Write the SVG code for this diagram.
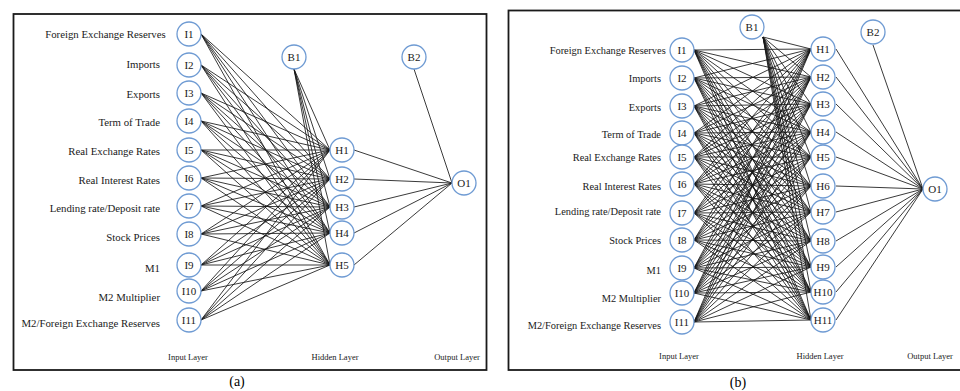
<svg xmlns="http://www.w3.org/2000/svg" width="960" height="391" viewBox="0 0 960 391">
<style>
.frame{fill:none;stroke:#1a1a1a;stroke-width:1.8}
.node circle{fill:#fff;stroke:#6f9bd3;stroke-width:1.3}
.node text{font-family:"Liberation Serif","Times New Roman",serif;font-size:11px;fill:#1a1a1a;text-anchor:middle}
.lbl{font-family:"Liberation Serif","Times New Roman",serif;font-size:10.8px;fill:#1a1a1a;text-anchor:end}
.lblb{font-family:"Liberation Serif","Times New Roman",serif;font-size:10.4px;fill:#1a1a1a;text-anchor:end}
.layer{font-family:"Liberation Serif","Times New Roman",serif;font-size:8.5px;fill:#1a1a1a;text-anchor:middle}
.cap{font-family:"Liberation Serif","Times New Roman",serif;font-size:14px;fill:#000;text-anchor:middle}
.edges path{fill:none;stroke:#161616;stroke-width:0.85}
</style>
<rect class="frame" x="13.5" y="14" width="473" height="356"/>
<rect class="frame" x="508.5" y="10.5" width="470" height="359.5"/>

<g id="connectors">
<g id="edges-a" class="edges">
<path d="M201 34L330 150M201 34L330 179M201 34L330 207M201 34L330 233M201 34L330 265"/>
<path d="M201 65L330 150M201 65L330 179M201 65L330 207M201 65L330 233M201 65L330 265"/>
<path d="M201 93L330 150M201 93L330 179M201 93L330 207M201 93L330 233M201 93L330 265"/>
<path d="M201 121L330 150M201 121L330 179M201 121L330 207M201 121L330 233M201 121L330 265"/>
<path d="M201 150L330 150M201 150L330 179M201 150L330 207M201 150L330 233M201 150L330 265"/>
<path d="M201 178L330 150M201 178L330 179M201 178L330 207M201 178L330 233M201 178L330 265"/>
<path d="M201 206L330 150M201 206L330 179M201 206L330 207M201 206L330 233M201 206L330 265"/>
<path d="M201 234L330 150M201 234L330 179M201 234L330 207M201 234L330 233M201 234L330 265"/>
<path d="M201 265L330 150M201 265L330 179M201 265L330 207M201 265L330 233M201 265L330 265"/>
<path d="M201 291L330 150M201 291L330 179M201 291L330 207M201 291L330 233M201 291L330 265"/>
<path d="M201 320L330 150M201 320L330 179M201 320L330 207M201 320L330 233M201 320L330 265"/>
<path d="M294 69L330 150M294 69L330 179M294 69L330 207M294 69L330 233M294 69L330 265"/>
<path d="M354 150L452 183M354 179L452 183M354 207L452 183M354 233L452 183M354 265L452 183"/>
<path d="M414 69L452 183"/>
</g>
<g id="edges-b" class="edges">
<path d="M694 50L811 49M694 50L811 77M694 50L811 104M694 50L811 132M694 50L811 157M694 50L811 186M694 50L811 212M694 50L811 241M694 50L811 267M694 50L811 292M694 50L811 320"/>
<path d="M694 78L811 49M694 78L811 77M694 78L811 104M694 78L811 132M694 78L811 157M694 78L811 186M694 78L811 212M694 78L811 241M694 78L811 267M694 78L811 292M694 78L811 320"/>
<path d="M694 106L811 49M694 106L811 77M694 106L811 104M694 106L811 132M694 106L811 157M694 106L811 186M694 106L811 212M694 106L811 241M694 106L811 267M694 106L811 292M694 106L811 320"/>
<path d="M694 133L811 49M694 133L811 77M694 133L811 104M694 133L811 132M694 133L811 157M694 133L811 186M694 133L811 212M694 133L811 241M694 133L811 267M694 133L811 292M694 133L811 320"/>
<path d="M694 157L811 49M694 157L811 77M694 157L811 104M694 157L811 132M694 157L811 157M694 157L811 186M694 157L811 212M694 157L811 241M694 157L811 267M694 157L811 292M694 157L811 320"/>
<path d="M694 184L811 49M694 184L811 77M694 184L811 104M694 184L811 132M694 184L811 157M694 184L811 186M694 184L811 212M694 184L811 241M694 184L811 267M694 184L811 292M694 184L811 320"/>
<path d="M694 213L811 49M694 213L811 77M694 213L811 104M694 213L811 132M694 213L811 157M694 213L811 186M694 213L811 212M694 213L811 241M694 213L811 267M694 213L811 292M694 213L811 320"/>
<path d="M694 240L811 49M694 240L811 77M694 240L811 104M694 240L811 132M694 240L811 157M694 240L811 186M694 240L811 212M694 240L811 241M694 240L811 267M694 240L811 292M694 240L811 320"/>
<path d="M694 268L811 49M694 268L811 77M694 268L811 104M694 268L811 132M694 268L811 157M694 268L811 186M694 268L811 212M694 268L811 241M694 268L811 267M694 268L811 292M694 268L811 320"/>
<path d="M694 293L811 49M694 293L811 77M694 293L811 104M694 293L811 132M694 293L811 157M694 293L811 186M694 293L811 212M694 293L811 241M694 293L811 267M694 293L811 292M694 293L811 320"/>
<path d="M694 322L811 49M694 322L811 77M694 322L811 104M694 322L811 132M694 322L811 157M694 322L811 186M694 322L811 212M694 322L811 241M694 322L811 267M694 322L811 292M694 322L811 320"/>
<path d="M763 37L811 49M763 37L811 77M763 37L811 104M763 37L811 132M763 37L811 157M763 37L811 186M763 37L811 212M763 37L811 241M763 37L811 267M763 37L811 292M763 37L811 320"/>
<path d="M836 49L923 189M836 77L923 189M836 104L923 189M836 132L923 189M836 157L923 189M836 186L923 189M836 212L923 189M836 241L923 189M836 267L923 189M836 292L923 189M836 320L923 189"/>
<path d="M873 45L923 189"/>
</g>
</g>

<!-- Panel (a) labels -->
<g id="labels-a" xml:space="preserve">
<text class="lbl" x="165.7" y="37.8">Foreign Exchange  Reserves</text>
<text class="lbl" x="160" y="67.8">Imports</text>
<text class="lbl" x="160" y="97.8">Exports</text>
<text class="lbl" x="160" y="125.8">Term of Trade</text>
<text class="lbl" x="160" y="154.8">Real Exchange  Rates</text>
<text class="lbl" x="160" y="183.8">Real Interest Rates</text>
<text class="lbl" x="160" y="211.8">Lending rate/Deposit rate</text>
<text class="lbl" x="160" y="240.8">Stock Prices</text>
<text class="lbl" x="160" y="271.8">M1</text>
<text class="lbl" x="160" y="300.8">M2 Multiplier</text>
<text class="lbl" x="160" y="326.8">M2/Foreign Exchange  Reserves</text>
<text class="layer" x="188" y="359.5">Input Layer</text>
<text class="layer" x="335" y="359.5">Hidden Layer</text>
<text class="layer" x="457" y="359.5">Output Layer</text>
<text class="cap" x="237" y="386">(a)</text>
</g>

<g id="a-I1" class="node"><circle cx="189" cy="34" r="12"/><text x="189" y="38">I1</text></g>
<g id="a-I2" class="node"><circle cx="189" cy="65" r="12"/><text x="189" y="69">I2</text></g>
<g id="a-I3" class="node"><circle cx="189" cy="93" r="12"/><text x="189" y="97">I3</text></g>
<g id="a-I4" class="node"><circle cx="189" cy="121" r="12"/><text x="189" y="125">I4</text></g>
<g id="a-I5" class="node"><circle cx="189" cy="150" r="12"/><text x="189" y="154">I5</text></g>
<g id="a-I6" class="node"><circle cx="189" cy="178" r="12"/><text x="189" y="182">I6</text></g>
<g id="a-I7" class="node"><circle cx="189" cy="206" r="12"/><text x="189" y="210">I7</text></g>
<g id="a-I8" class="node"><circle cx="189" cy="234" r="12"/><text x="189" y="238">I8</text></g>
<g id="a-I9" class="node"><circle cx="189" cy="265" r="12"/><text x="189" y="269">I9</text></g>
<g id="a-I10" class="node"><circle cx="189" cy="291" r="12"/><text x="189" y="295">I10</text></g>
<g id="a-I11" class="node"><circle cx="189" cy="320" r="12"/><text x="189" y="324">I11</text></g>
<g id="a-B1" class="node"><circle cx="294" cy="57" r="12"/><text x="294" y="61">B1</text></g>
<g id="a-B2" class="node"><circle cx="414" cy="57" r="12"/><text x="414" y="61">B2</text></g>
<g id="a-H1" class="node"><circle cx="342" cy="150" r="12"/><text x="342" y="154">H1</text></g>
<g id="a-H2" class="node"><circle cx="342" cy="179" r="12"/><text x="342" y="183">H2</text></g>
<g id="a-H3" class="node"><circle cx="342" cy="207" r="12"/><text x="342" y="211">H3</text></g>
<g id="a-H4" class="node"><circle cx="342" cy="233" r="12"/><text x="342" y="237">H4</text></g>
<g id="a-H5" class="node"><circle cx="342" cy="265" r="12"/><text x="342" y="269">H5</text></g>
<g id="a-O1" class="node"><circle cx="464" cy="183" r="12"/><text x="464" y="187">O1</text></g>

<!-- Panel (b) labels -->
<g id="labels-b" xml:space="preserve">
<text class="lblb" x="665.7" y="53.6">Foreign Exchange  Reserves</text>
<text class="lblb" x="661" y="82.3">Imports</text>
<text class="lblb" x="661" y="110.6">Exports</text>
<text class="lblb" x="661" y="137.6">Term of Trade</text>
<text class="lblb" x="661" y="161.3">Real Exchange  Rates</text>
<text class="lblb" x="661" y="189.6">Real Interest Rates</text>
<text class="lblb" x="661" y="215.3">Lending rate/Deposit rate</text>
<text class="lblb" x="661" y="243.6">Stock Prices</text>
<text class="lblb" x="661" y="274.3">M1</text>
<text class="lblb" x="661" y="301.9">M2 Multiplier</text>
<text class="lblb" x="661" y="328.6">M2/Foreign Exchange  Reserves</text>
<text class="layer" x="679" y="358.5">Input Layer</text>
<text class="layer" x="820" y="359">Hidden Layer</text>
<text class="layer" x="930" y="359">Output Layer</text>
<text class="cap" x="738" y="387">(b)</text>
</g>

<g id="b-I1" class="node"><circle cx="682" cy="50" r="12"/><text x="682" y="54">I1</text></g>
<g id="b-I2" class="node"><circle cx="682" cy="78" r="12"/><text x="682" y="82">I2</text></g>
<g id="b-I3" class="node"><circle cx="682" cy="106" r="12"/><text x="682" y="110">I3</text></g>
<g id="b-I4" class="node"><circle cx="682" cy="133" r="12"/><text x="682" y="137">I4</text></g>
<g id="b-I5" class="node"><circle cx="682" cy="157" r="12"/><text x="682" y="161">I5</text></g>
<g id="b-I6" class="node"><circle cx="682" cy="184" r="12"/><text x="682" y="188">I6</text></g>
<g id="b-I7" class="node"><circle cx="682" cy="213" r="12"/><text x="682" y="217">I7</text></g>
<g id="b-I8" class="node"><circle cx="682" cy="240" r="12"/><text x="682" y="244">I8</text></g>
<g id="b-I9" class="node"><circle cx="682" cy="268" r="12"/><text x="682" y="272">I9</text></g>
<g id="b-I10" class="node"><circle cx="682" cy="293" r="12"/><text x="682" y="297">I10</text></g>
<g id="b-I11" class="node"><circle cx="682" cy="322" r="12"/><text x="682" y="326">I11</text></g>
<g id="b-B1" class="node"><circle cx="752" cy="27" r="12"/><text x="752" y="31">B1</text></g>
<g id="b-B2" class="node"><circle cx="873" cy="32" r="12"/><text x="873" y="36">B2</text></g>
<g id="b-H1" class="node"><circle cx="823" cy="49" r="12"/><text x="823" y="53">H1</text></g>
<g id="b-H2" class="node"><circle cx="823" cy="77" r="12"/><text x="823" y="81">H2</text></g>
<g id="b-H3" class="node"><circle cx="823" cy="104" r="12"/><text x="823" y="108">H3</text></g>
<g id="b-H4" class="node"><circle cx="823" cy="132" r="12"/><text x="823" y="136">H4</text></g>
<g id="b-H5" class="node"><circle cx="823" cy="157" r="12"/><text x="823" y="161">H5</text></g>
<g id="b-H6" class="node"><circle cx="823" cy="186" r="12"/><text x="823" y="190">H6</text></g>
<g id="b-H7" class="node"><circle cx="823" cy="212" r="12"/><text x="823" y="216">H7</text></g>
<g id="b-H8" class="node"><circle cx="823" cy="241" r="12"/><text x="823" y="245">H8</text></g>
<g id="b-H9" class="node"><circle cx="823" cy="267" r="12"/><text x="823" y="271">H9</text></g>
<g id="b-H10" class="node"><circle cx="823" cy="292" r="12"/><text x="823" y="296">H10</text></g>
<g id="b-H11" class="node"><circle cx="823" cy="320" r="12"/><text x="823" y="324">H11</text></g>
<g id="b-O1" class="node"><circle cx="935" cy="189" r="12"/><text x="935" y="193">O1</text></g>
</svg>
